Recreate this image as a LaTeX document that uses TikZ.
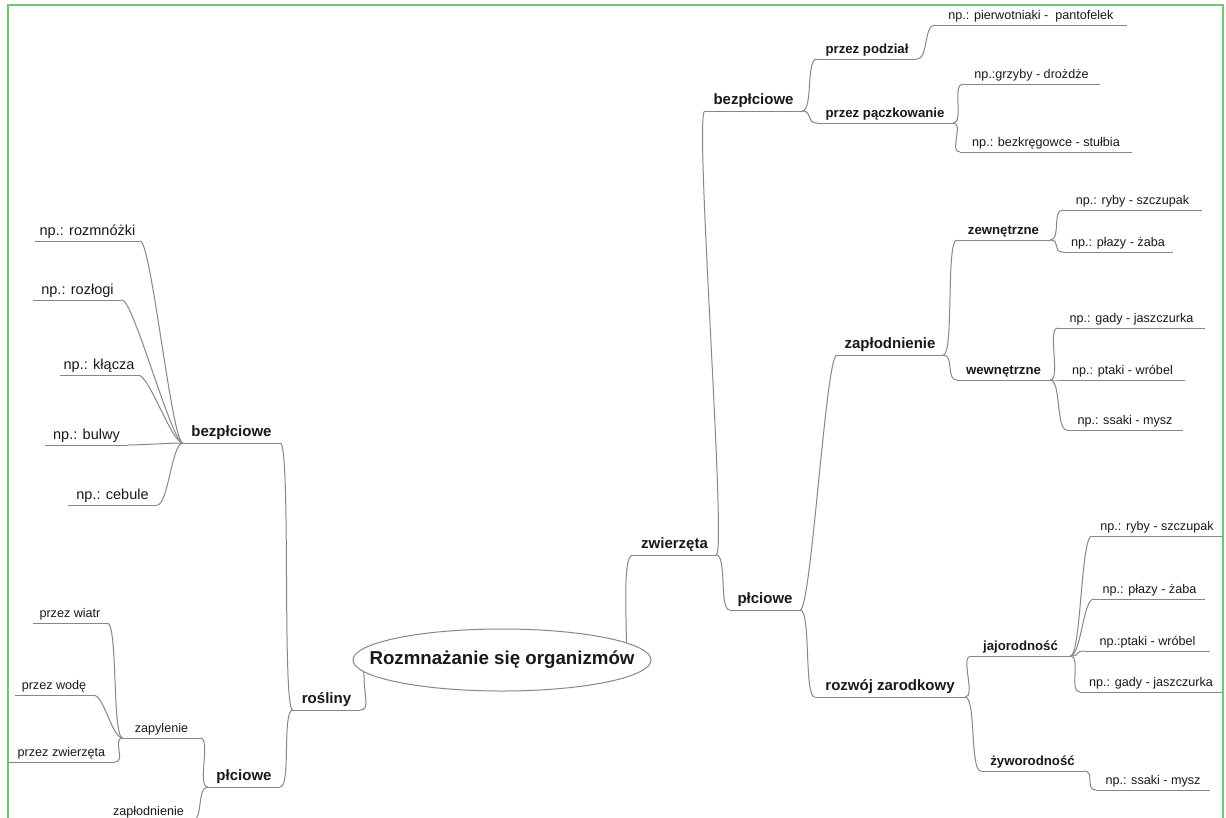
\documentclass[tikz,border=0pt]{standalone}
\usepackage{fontspec}
\setmainfont{Liberation Sans}
\usetikzlibrary{shapes.geometric}
\definecolor{framec}{RGB}{110,200,110}
\definecolor{lnk}{RGB}{135,135,135}
\definecolor{txt}{RGB}{25,25,25}
\newcommand\connR[2]{\draw[link] (#1) .. controls +(11,0) and +(-11,0) .. (#2);}
\newcommand\connL[2]{\draw[link] (#1) .. controls +(-11,0) and +(11,0) .. (#2);}
\begin{document}
\begin{tikzpicture}[x=1pt,y=-1pt,
  link/.style={draw=lnk, line width=1pt},
  lab/.style={inner xsep=0pt, inner ysep=2pt, anchor=south, text depth=3pt, text=txt},
  s11/.style={lab, font=\fontsize{12.6}{14}\selectfont},
  s13/.style={lab, font=\fontsize{14.5}{16}\selectfont},
  b12/.style={lab, text depth=3.5pt, font=\bfseries\fontsize{13.2}{15}\selectfont},
  b14/.style={lab, text depth=4pt, font=\bfseries\fontsize{15}{17}\selectfont},
  b15/.style={lab, text depth=4pt, font=\bfseries\fontsize{15}{17}\selectfont}]
\useasboundingbox (0,0) rectangle (1226,817);
\clip (0,0) rectangle (1226,817);
\fill[white] (0,0) rectangle (1226,817);
\draw[framec, line width=2pt] (8,840) -- (8,5) -- (1223,5) -- (1223,840);

% centre
\node[ellipse, draw=lnk, fill=white, line width=1pt, minimum width=298, minimum height=62, inner sep=0pt] (c) at (502,660) {};
\node[text=txt, font=\bfseries\fontsize{18.7}{21}\selectfont, inner sep=0pt] (ct) at (c.center) {Rozmnażanie się organizmów};

% right side
\node[b14, minimum width=83] (zw) at (674.5,555) {zwierzęta};
\node[b14, minimum width=97] (rbz) at (753.5,111) {bezpłciowe};
\node[b14, minimum width=70] (rpl) at (765,610) {płciowe};
\node[b12, minimum width=100] (pod) at (867,59) {przez podział};
\node[b12, minimum width=136] (pacz) at (885,123) {przez pączkowanie};
\node[s11, minimum width=192] (pierw) at (1031,25) {np.: pierwotniaki -\ \ pantofelek};
\node[s11, minimum width=137] (grz) at (1031.5,84) {np.:grzyby - drożdże};
\node[s11, minimum width=172] (bezk) at (1046,152) {np.: bezkręgowce - stułbia};
\node[b14, minimum width=106] (zapl) at (890,355) {zapłodnienie};
\node[b12, minimum width=93] (zew) at (1003.5,240) {zewnętrzne};
\node[b12, minimum width=93] (wew) at (1003.5,380) {wewnętrzne};
\node[s11, minimum width=139] (ryb1) at (1132.5,210) {np.: ryby - szczupak};
\node[s11, minimum width=110] (plaz1) at (1118,252) {np.: płazy - żaba};
\node[s11, minimum width=147] (gad1) at (1131.5,328) {np.: gady - jaszczurka};
\node[s11, minimum width=125] (ptak1) at (1122.5,380) {np.: ptaki - wróbel};
\node[s11, minimum width=116] (ssak1) at (1125,430) {np.: ssaki - mysz};
\node[b14, minimum width=150] (rozw) at (890,697) {rozwój zarodkowy};
\node[b12, minimum width=99] (jaj) at (1020.5,656) {jajorodność};
\node[b12, minimum width=103] (zyw) at (1032.5,771) {żyworodność};
\node[s11, minimum width=130] (ryb2) at (1157,536) {np.: ryby - szczupak};
\node[s11, minimum width=111] (plaz2) at (1149.5,599) {np.: płazy - żaba};
\node[s11, minimum width=125] (ptak2) at (1147.5,651) {np.:ptaki - wróbel};
\node[s11, minimum width=142] (gad2) at (1151,692) {np.: gady - jaszczurka};
\node[s11, minimum width=114] (ssak2) at (1153,790) {np.: ssaki - mysz};

% left side
\node[b14, minimum width=67] (ros) at (326.5,710) {rośliny};
\node[b15, minimum width=97] (lbz) at (231.5,443) {bezpłciowe};
\node[b15, minimum width=72] (lpl) at (244,787) {płciowe};
\node[s13, minimum width=105] (rozm) at (87.5,241) {np.: rozmnóżki};
\node[s13, minimum width=89] (rozl) at (77.5,300) {np.: rozłogi};
\node[s13, minimum width=78] (klacz) at (99,375) {np.: kłącza};
\node[s13, minimum width=83] (bulw) at (86.5,445) {np.: bulwy};
\node[s13, minimum width=89] (ceb) at (112.5,505) {np.: cebule};
\node[s11, minimum width=77] (zapy) at (161.5,738) {zapylenie};
\node[s11, minimum width=74] (wiatr) at (70,623) {przez wiatr};
\node[s11, minimum width=78] (woda) at (54,695) {przez wodę};
\node[s11, minimum width=107] (zwierz) at (61.5,762) {przez zwierzęta};
\node[s11, minimum width=87] (zapd) at (148.5,821) {zapłodnienie};

% underlines
\foreach \n in {zw,rbz,rpl,pod,pacz,pierw,grz,bezk,zapl,zew,wew,ryb1,plaz1,gad1,ptak1,ssak1,rozw,jaj,zyw,ryb2,plaz2,ptak2,gad2,ssak2,ros,lbz,lpl,rozm,rozl,klacz,bulw,ceb,zapy,wiatr,woda,zwierz,zapd}
  \draw[link] (\n.south west) -- (\n.south east);

% connectors
\draw[link] (c.8) .. controls +(0,-30) and +(-10,0) .. (zw.south west);
\draw[link] (c.185) .. controls +(0,25) and +(10,0) .. (ros.south east);
\connR{zw.south east}{rbz.south west}
\connR{zw.south east}{rpl.south west}
\connR{rbz.south east}{pod.south west}
\connR{rbz.south east}{pacz.south west}
\connR{pod.south east}{pierw.south west}
\connR{pacz.south east}{grz.south west}
\connR{pacz.south east}{bezk.south west}
\connR{rpl.south east}{zapl.south west}
\connR{rpl.south east}{rozw.south west}
\connR{zapl.south east}{zew.south west}
\connR{zapl.south east}{wew.south west}
\connR{zew.south east}{ryb1.south west}
\connR{zew.south east}{plaz1.south west}
\connR{wew.south east}{gad1.south west}
\connR{wew.south east}{ptak1.south west}
\connR{wew.south east}{ssak1.south west}
\connR{rozw.south east}{jaj.south west}
\connR{rozw.south east}{zyw.south west}
\connR{jaj.south east}{ryb2.south west}
\connR{jaj.south east}{plaz2.south west}
\connR{jaj.south east}{ptak2.south west}
\connR{jaj.south east}{gad2.south west}
\connR{zyw.south east}{ssak2.south west}
\connL{ros.south west}{lbz.south east}
\connL{ros.south west}{lpl.south east}
\connL{lbz.south west}{rozm.south east}
\connL{lbz.south west}{rozl.south east}
\connL{lbz.south west}{klacz.south east}
\connL{lbz.south west}{bulw.south east}
\connL{lbz.south west}{ceb.south east}
\connL{lpl.south west}{zapy.south east}
\connL{lpl.south west}{zapd.south east}
\connL{zapy.south west}{wiatr.south east}
\connL{zapy.south west}{woda.south east}
\connL{zapy.south west}{zwierz.south east}
\end{tikzpicture}
\end{document}
